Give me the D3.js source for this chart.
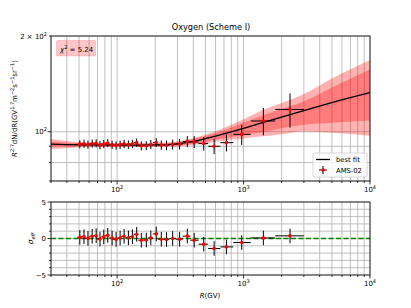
<!DOCTYPE html>
<html>
<head>
<meta charset="UTF-8">
<style>
  body { margin: 0; background: #fff; }
  svg { display: block; font-family: "DejaVu Sans", sans-serif; }
</style>
</head>
<body>
<svg></svg>
<script src="https://d3js.org/d3.v7.min.js"></script>
<script>
const width = 411, height = 308;

// AMS-02 oxygen points (rigidity in GV)
const rigidity = [50.7, 54.7, 58.8, 63.5, 68.3, 73.2, 78.4, 84.3, 91.3, 98.2, 105.6, 113.6, 122.8, 132.1, 142.8, 155.4, 170.2, 184.7, 204, 223.6, 246, 275, 312, 359, 407, 484, 585, 732, 967, 1434, 2331];
const binLow = [48.5, 52.2, 56.1, 60.3, 64.8, 69.7, 74.9, 80.5, 86.5, 93.0, 100, 108, 116, 125, 135, 147, 160, 175, 192, 211, 233, 259, 291, 330, 379, 441, 525, 655, 830, 1140, 1780];
const binHigh = [52.2, 56.1, 60.3, 64.8, 69.7, 74.9, 80.5, 86.5, 93.0, 100, 108, 116, 125, 135, 147, 160, 175, 192, 211, 233, 259, 291, 330, 379, 441, 525, 655, 830, 1140, 1780, 3000];
const flux = [91.4, 91.7, 91.1, 91.8, 92.0, 90.8, 91.5, 92.1, 91.0, 90.5, 91.0, 91.6, 91.1, 91.5, 92.4, 90.3, 90.4, 91.2, 92.5, 90.8, 90.7, 91.2, 91.4, 93.2, 92.9, 91.8, 90.0, 92.4, 98.1, 108.1, 117.5];
const fluxErr = [2.7, 2.7, 2.7, 2.7, 2.7, 2.7, 2.7, 2.7, 2.7, 2.7, 2.8, 2.8, 2.8, 2.8, 2.8, 2.9, 2.9, 3.0, 3.0, 3.1, 3.2, 3.3, 3.5, 3.7, 4.0, 4.5, 5.0, 5.7, 7.2, 10.7, 14.5];
const residual = [0.15, 0.25, 0.02, 0.30, 0.38, -0.08, 0.22, 0.43, 0.06, -0.12, 0.06, 0.30, 0.10, 0.25, 0.57, -0.23, -0.21, 0.08, 0.63, -0.10, -0.14, 0.00, -0.10, 0.32, -0.23, -0.78, -1.37, -1.15, -0.55, 0.08, 0.36];
const residualErr = [1, 1, 1, 1, 1, 1, 1, 1, 1, 1, 1, 1, 1, 1, 1, 1, 1, 1, 1, 1, 1, 1, 1, 1, 1, 1, 1, 1, 1, 1, 1];

// best fit and uncertainty bands
const fitR = [30, 40, 50, 70, 100, 150, 200, 300, 400, 600, 1000, 1350, 2000, 3000, 5000, 10000];
const fitFlux = [91.4, 91.1, 91.0, 90.9, 90.8, 90.8, 90.9, 91.6, 93.2, 96.8, 102.5, 106.2, 111.2, 116.5, 123.5, 132.7];
const innerLo = [89.7, 89.8, 90.0, 90.1, 90.0, 90.0, 90.1, 90.6, 91.5, 94.4, 97.7, 99.4, 102.6, 105.2, 106.7, 108.4];
const innerHi = [93.1, 92.4, 92.0, 91.7, 91.6, 91.6, 91.7, 92.6, 94.9, 98.9, 106.7, 111.8, 117.9, 124.7, 137.8, 156.8];
const outerLo = [88.1, 88.8, 89.4, 89.6, 89.5, 89.5, 89.6, 89.9, 90.8, 93.0, 95.3, 96.6, 98.2, 100.2, 99.2, 97.2];
const outerHi = [94.8, 93.5, 92.7, 92.2, 92.1, 92.1, 92.2, 93.3, 95.6, 100.4, 109.5, 115.9, 123.1, 131.5, 147.1, 168.0];

const chiText = "5.24";
const title = "Oxygen (Scheme I)";

const xMajor = [100, 1000, 10000];
const xMinor = [30, 40, 50, 60, 70, 80, 90, 200, 300, 400, 500, 600, 700, 800, 900, 2000, 3000, 4000, 5000, 6000, 7000, 8000, 9000];
const yTopMajor = [100];
const yTopMinor = [70, 80, 90, 200];
const yBotMajor = [-5, 0, 5];
const yBotMinor = [-4, -3, -2, -1, 1, 2, 3, 4];

const svg = d3.select("svg").attr("width", width).attr("height", height);

const x = d3.scaleLog().domain([30, 10000]).range([51, 370]);
const yTop = d3.scaleLog().domain([70, 200]).range([181, 36]);
const yBot = d3.scaleLinear().domain([-5, 5]).range([275, 202]);

const points = rigidity.map((r, i) => ({r: r, lo: binLow[i], hi: binHigh[i], f: flux[i], e: fluxErr[i], res: residual[i], re: residualErr[i]}));
const fit = fitR.map((r, i) => ({r: r, f: fitFlux[i], il: innerLo[i], ih: innerHi[i], ol: outerLo[i], oh: outerHi[i]}));

const defs = svg.append("defs");
defs.append("clipPath").attr("id", "clipTop").append("rect")
  .attr("x", 51).attr("y", 36).attr("width", 319).attr("height", 145);
defs.append("clipPath").attr("id", "clipBot").append("rect")
  .attr("x", 51).attr("y", 202).attr("width", 319).attr("height", 73);

function grid(g, yScale, yVals) {
  g.selectAll(null).data(xMajor.concat(xMinor)).enter().append("line")
    .attr("x1", d => x(d)).attr("x2", d => x(d))
    .attr("y1", yScale.range()[0]).attr("y2", yScale.range()[1])
    .attr("stroke", "#b0b0b0").attr("stroke-width", 0.8);
  g.selectAll(null).data(yVals).enter().append("line")
    .attr("x1", 51).attr("x2", 370)
    .attr("y1", d => yScale(d)).attr("y2", d => yScale(d))
    .attr("stroke", "#b0b0b0").attr("stroke-width", 0.8);
}

function ticks(g, yScale, yMaj, yMin) {
  const y0 = yScale.range()[0];
  const add = (vals, len, horiz) => {
    g.selectAll(null).data(vals).enter().append("line")
      .attr("x1", d => horiz ? x(d) : 51).attr("x2", d => horiz ? x(d) : 51 - len)
      .attr("y1", d => horiz ? y0 : yScale(d)).attr("y2", d => horiz ? y0 + len : yScale(d))
      .attr("stroke", "#000").attr("stroke-width", 0.8);
  };
  add(xMajor, 3.5, true);
  add(xMinor, 2, true);
  add(yMaj, 3.5, false);
  add(yMin, 2, false);
}

function powLabel(g, px, py, pre, exp, anchor) {
  const t = g.append("text").attr("x", px).attr("y", py)
    .attr("text-anchor", anchor).attr("font-size", 7);
  t.append("tspan").text(pre);
  t.append("tspan").attr("font-size", 5).attr("dy", -3).text(exp);
  return t;
}

// ---------- top panel ----------
const topG = svg.append("g");
grid(topG, yTop, [70, 80, 90, 100, 200]);

const area = (lo, hi) => d3.area().x(d => x(d.r)).y0(d => yTop(d[lo])).y1(d => yTop(d[hi])).curve(d3.curveMonotoneX);
const plot = topG.append("g").attr("clip-path", "url(#clipTop)");
plot.append("path").datum(fit).attr("d", area("ol", "oh")).attr("fill", "red").attr("fill-opacity", 0.3);
plot.append("path").datum(fit).attr("d", area("il", "ih")).attr("fill", "red").attr("fill-opacity", 0.3);
plot.append("path").datum(fit)
  .attr("d", d3.line().x(d => x(d.r)).y(d => yTop(d.f)).curve(d3.curveMonotoneX))
  .attr("fill", "none").attr("stroke", "#000").attr("stroke-width", 1.3);

const pts = plot.append("g");
pts.selectAll(null).data(points).enter().append("line")
  .attr("x1", d => x(d.r)).attr("x2", d => x(d.r))
  .attr("y1", d => yTop(d.f - d.e)).attr("y2", d => yTop(d.f + d.e))
  .attr("stroke", "#000").attr("stroke-width", 1);
pts.selectAll(null).data(points).enter().append("line")
  .attr("x1", d => x(d.lo)).attr("x2", d => x(d.hi))
  .attr("y1", d => yTop(d.f)).attr("y2", d => yTop(d.f))
  .attr("stroke", "#000").attr("stroke-width", 1);
pts.selectAll(null).data(points).enter().append("circle")
  .attr("cx", d => x(d.r)).attr("cy", d => yTop(d.f)).attr("r", 1.8).attr("fill", "red");

topG.append("rect").attr("x", 51).attr("y", 36).attr("width", 319).attr("height", 145)
  .attr("fill", "none").attr("stroke", "#000").attr("stroke-width", 0.8);
ticks(topG, yTop, yTopMajor, yTopMinor);

xMajor.forEach(v => powLabel(topG, x(v), 192, "10", String(Math.round(Math.log10(v))), "middle"));
powLabel(topG, 47, yTop(100) + 2.5, "10", "2", "end");
powLabel(topG, 47, yTop(200) + 2.5, "2 \u00d7 10", "2", "end");

topG.append("text").attr("x", 211).attr("y", 30).attr("text-anchor", "middle")
  .attr("font-size", 8.2).text(title);

// y label
const yl = topG.append("text").attr("transform", "translate(16.5,108.5) rotate(-90)")
  .attr("text-anchor", "middle").attr("font-size", 7);
const ylParts = [["R", ""], ["2.7", "sup"], ["dN/dR(GV", ""], ["1.7", "sup"], ["m", ""], ["\u22122", "sup"], ["s", ""], ["\u22121", "sup"], ["sr", ""], ["\u22121", "sup"], [")", ""]];
ylParts.forEach(p => {
  const s = yl.append("tspan").text(p[0]);
  if (p[0] === "R") s.attr("font-style", "italic");
  if (p[1] === "sup") s.attr("dy", -2.8).attr("font-size", 5);
  else if (p[0] !== "R") s.attr("dy", 2.8);
});

// chi2 box
topG.append("rect").attr("x", 56.5).attr("y", 40.5).attr("width", 39).attr("height", 15.5).attr("rx", 1)
  .attr("fill", "red").attr("fill-opacity", 0.22).attr("stroke", "red").attr("stroke-opacity", 0.15);
const chi = topG.append("text").attr("x", 60).attr("y", 51.5).attr("font-size", 7);
chi.append("tspan").attr("font-style", "italic").text("\u03c7");
chi.append("tspan").attr("font-size", 5).attr("dy", -3).text("2");
chi.append("tspan").attr("dy", 3).text(" = " + chiText);

// legend
const leg = topG.append("g");
leg.append("rect").attr("x", 313).attr("y", 153).attr("width", 54).attr("height", 24).attr("rx", 2)
  .attr("fill", "#fff").attr("fill-opacity", 0.8).attr("stroke", "#cccccc").attr("stroke-width", 0.8);
leg.append("line").attr("x1", 316).attr("x2", 330).attr("y1", 159.5).attr("y2", 159.5)
  .attr("stroke", "#000").attr("stroke-width", 1.3);
leg.append("text").attr("x", 336).attr("y", 162).attr("font-size", 6.8).text("best fit");
leg.append("line").attr("x1", 323).attr("x2", 323).attr("y1", 166).attr("y2", 174).attr("stroke", "#000");
leg.append("line").attr("x1", 319).attr("x2", 327).attr("y1", 170).attr("y2", 170).attr("stroke", "#000");
leg.append("circle").attr("cx", 323).attr("cy", 170).attr("r", 1.8).attr("fill", "red");
leg.append("text").attr("x", 336).attr("y", 172.5).attr("font-size", 6.8).text("AMS-02");

// ---------- bottom panel ----------
const bot = svg.append("g");
grid(bot, yBot, d3.range(-5, 6));
const bplot = bot.append("g").attr("clip-path", "url(#clipBot)");
bplot.append("line").attr("x1", 51).attr("x2", 370).attr("y1", yBot(0)).attr("y2", yBot(0))
  .attr("stroke", "green").attr("stroke-width", 1.4).attr("stroke-dasharray", "5,2.5");
bplot.selectAll(null).data(points).enter().append("line")
  .attr("x1", d => x(d.r)).attr("x2", d => x(d.r))
  .attr("y1", d => yBot(d.res - d.re)).attr("y2", d => yBot(d.res + d.re))
  .attr("stroke", "#000").attr("stroke-width", 1);
bplot.selectAll(null).data(points).enter().append("line")
  .attr("x1", d => x(d.lo)).attr("x2", d => x(d.hi))
  .attr("y1", d => yBot(d.res)).attr("y2", d => yBot(d.res))
  .attr("stroke", "#000").attr("stroke-width", 1);
bplot.selectAll(null).data(points).enter().append("circle")
  .attr("cx", d => x(d.r)).attr("cy", d => yBot(d.res)).attr("r", 1.8).attr("fill", "red");

bot.append("rect").attr("x", 51).attr("y", 202).attr("width", 319).attr("height", 73)
  .attr("fill", "none").attr("stroke", "#000").attr("stroke-width", 0.8);
ticks(bot, yBot, yBotMajor, yBotMinor);

xMajor.forEach(v => powLabel(bot, x(v), 285.5, "10", String(Math.round(Math.log10(v))), "middle"));
yBotMajor.forEach(v => bot.append("text").attr("x", 46).attr("y", yBot(v) + 2.5)
  .attr("text-anchor", "end").attr("font-size", 7).text(v < 0 ? "\u2212" + Math.abs(v) : v));

const xl = bot.append("text").attr("x", 210).attr("y", 297.5).attr("text-anchor", "middle").attr("font-size", 7);
xl.append("tspan").attr("font-style", "italic").text("R");
xl.append("tspan").text("(GV)");

const sl = bot.append("text").attr("transform", "translate(33,238.5) rotate(-90)")
  .attr("text-anchor", "middle").attr("font-size", 7.5);
sl.append("tspan").attr("font-style", "italic").text("\u03c3");
sl.append("tspan").attr("font-size", 5.2).attr("dy", 1.8).attr("font-style", "italic").text("eff");
</script>
</body>
</html>
